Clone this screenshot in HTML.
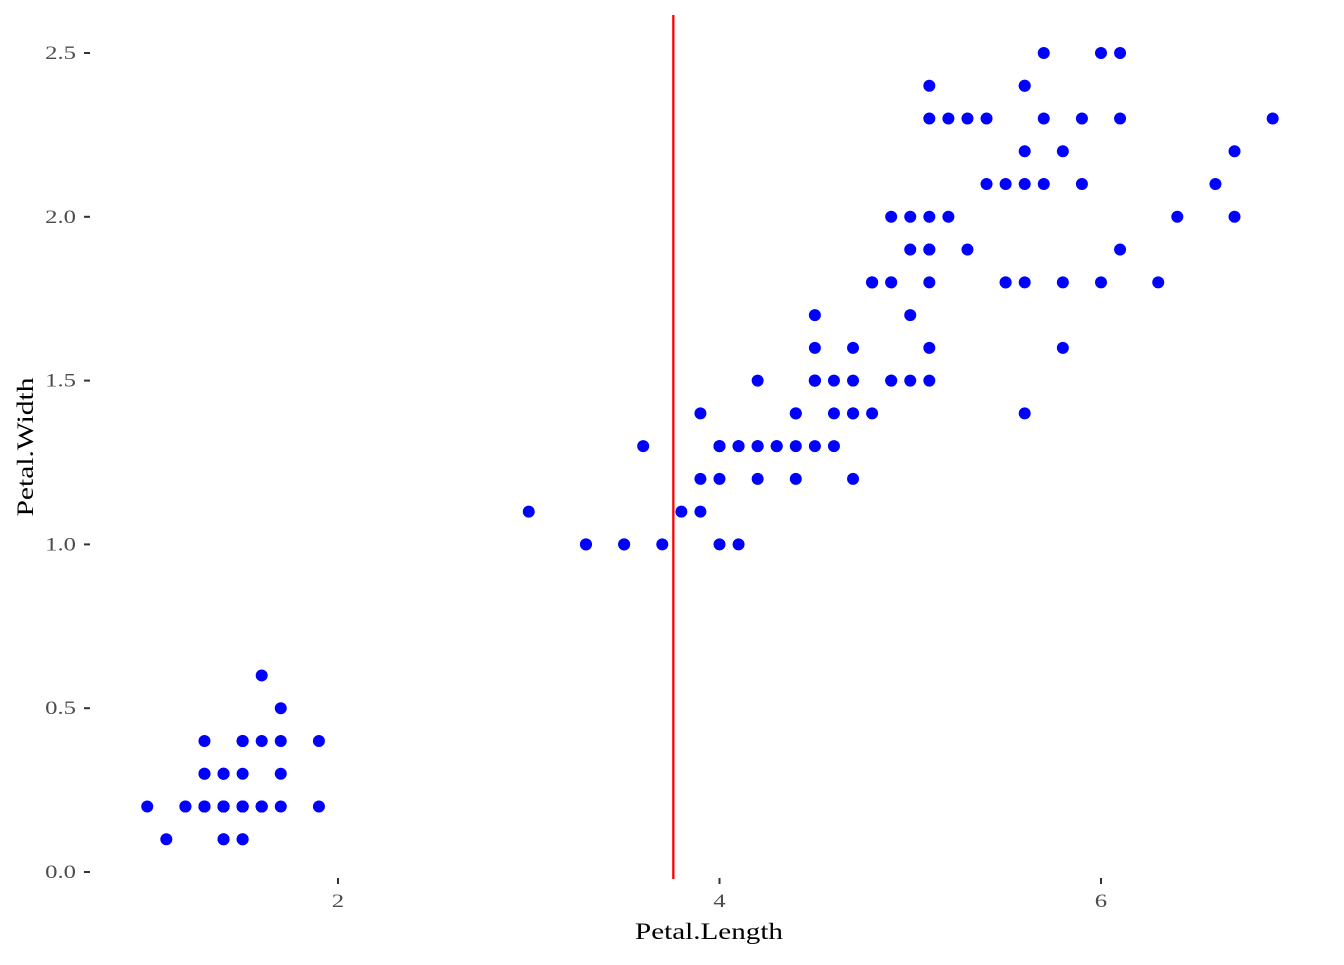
<!DOCTYPE html>
<html><head><meta charset="utf-8"><style>
body{margin:0;background:#fff}
svg text{font-family:"Liberation Serif",serif}
</style></head><body>
<svg id="chart" width="1344" height="960">
<g id="marks"></g><g id="axes"></g>
<text x="709" y="939" font-size="23" text-anchor="middle" fill="#000" textLength="148" lengthAdjust="spacingAndGlyphs">Petal.Length</text>
<text transform="translate(33,447) rotate(-90)" font-size="23" text-anchor="middle" fill="#000" textLength="139" lengthAdjust="spacingAndGlyphs">Petal.Width</text>
</svg>
<script>
const petalLength=[1.4,1.4,1.3,1.5,1.4,1.7,1.4,1.5,1.4,1.5,1.5,1.6,1.4,1.1,1.2,1.5,1.3,1.4,1.7,1.5,1.7,1.5,1.0,1.7,1.9,1.6,1.6,1.5,1.4,1.6,1.6,1.5,1.5,1.4,1.5,1.2,1.3,1.4,1.3,1.5,1.3,1.3,1.3,1.6,1.9,1.4,1.6,1.4,1.5,1.4,
4.7,4.5,4.9,4.0,4.6,4.5,4.7,3.3,4.6,3.9,3.5,4.2,4.0,4.7,3.6,4.4,4.5,4.1,4.5,3.9,4.8,4.0,4.9,4.7,4.3,4.4,4.8,5.0,4.5,3.5,3.8,3.7,3.9,5.1,4.5,4.5,4.7,4.4,4.1,4.0,4.4,4.6,4.0,3.3,4.2,4.2,4.2,4.3,3.0,4.1,
6.0,5.1,5.9,5.6,5.8,6.6,4.5,6.3,5.8,6.1,5.1,5.3,5.5,5.0,5.1,5.3,5.5,6.7,6.9,5.0,5.7,4.9,6.7,4.9,5.7,6.0,4.8,4.9,5.6,5.8,6.1,6.4,5.6,5.1,5.6,6.1,5.6,5.5,4.8,5.4,5.6,5.1,5.1,5.9,5.7,5.2,5.0,5.2,5.4,5.1];
const petalWidth=[.2,.2,.2,.2,.2,.4,.3,.2,.2,.1,.2,.2,.1,.1,.2,.4,.4,.3,.3,.3,.2,.4,.2,.5,.2,.2,.4,.2,.2,.2,.2,.4,.1,.2,.2,.2,.2,.1,.2,.2,.3,.3,.2,.6,.4,.3,.2,.2,.2,.2,
1.4,1.5,1.5,1.3,1.5,1.3,1.6,1.0,1.3,1.4,1.0,1.5,1.0,1.4,1.3,1.4,1.5,1.0,1.5,1.1,1.8,1.3,1.5,1.2,1.3,1.4,1.4,1.7,1.5,1.0,1.1,1.0,1.2,1.6,1.5,1.6,1.5,1.3,1.3,1.3,1.2,1.4,1.2,1.0,1.3,1.2,1.3,1.3,1.1,1.3,
2.5,1.9,2.1,1.8,2.2,2.1,1.7,1.8,1.8,2.5,2.0,1.9,2.1,2.0,2.4,2.3,1.8,2.2,2.3,1.5,2.3,2.0,2.0,1.8,2.1,1.8,1.8,1.8,2.1,1.6,1.9,2.0,2.2,1.5,1.4,2.3,2.4,1.8,1.8,2.1,2.4,2.3,1.9,2.3,2.5,2.3,1.9,2.0,2.3,1.8];
const xTicks=[2,4,6];
const yTicks=[0,0.5,1,1.5,2,2.5];
const yTickLabels=["0.0","0.5","1.0","1.5","2.0","2.5"];
const vlineX=petalLength.reduce((a,b)=>a+b,0)/petalLength.length;

const NS="http://www.w3.org/2000/svg";
const sx=v=>338+(v-2)*190.75;
const sy=v=>872-v*327.6;
const marks=document.getElementById('marks'),axes=document.getElementById('axes');
function mk(tag,attrs,parent){const e=document.createElementNS(NS,tag);for(const k in attrs)e.setAttribute(k,attrs[k]);parent.appendChild(e);return e;}
function widen(t){const w=t.getComputedTextLength();t.setAttribute('textLength',w*1.3);t.setAttribute('lengthAdjust','spacingAndGlyphs');}
petalLength.forEach((x,i)=>{
  const c=mk('circle',{cx:sx(x),cy:sy(petalWidth[i]),r:6,fill:'#0000ff'},marks);
  
  
});
const vl=mk('line',{x1:sx(vlineX),x2:sx(vlineX),y1:15,y2:879,stroke:'#ff0000','stroke-width':2.3},marks);


xTicks.forEach(t=>{
  const l=mk('line',{x1:sx(t),x2:sx(t),y1:878,y2:884,stroke:'#333','stroke-width':2},axes);
  
  
  const tx=mk('text',{x:sx(t),y:907,'font-size':19,'text-anchor':'middle',fill:'#4d4d4d'},axes);
  tx.textContent=t;
  
  
  widen(tx);
});
yTicks.forEach((t,i)=>{
  const l=mk('line',{x1:84,x2:90,y1:sy(t),y2:sy(t),stroke:'#333','stroke-width':2},axes);
  
  
  const tx=mk('text',{x:76,y:sy(t)+6,'font-size':19,'text-anchor':'end',fill:'#4d4d4d'},axes);
  tx.textContent=yTickLabels[i];
  
  
  widen(tx);
});
</script>
</body></html>
